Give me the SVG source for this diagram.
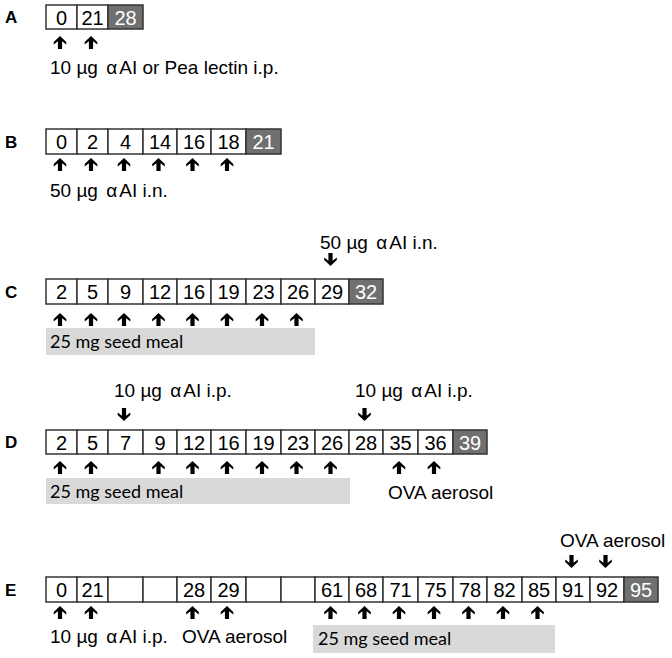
<svg xmlns="http://www.w3.org/2000/svg" xmlns:xlink="http://www.w3.org/1999/xlink" width="672" height="658" viewBox="0 0 672 658">
<style>
.c{fill:#fff;stroke:#333;stroke-width:1.5}
.d{fill:#707070;stroke:#333;stroke-width:1.5}
.n{font-family:"Liberation Sans",Arial,sans-serif;font-size:20px;fill:#000;text-anchor:middle}
.nw{font-family:"Liberation Sans",Arial,sans-serif;font-size:20px;fill:#fff;text-anchor:middle}
.l{font-family:"Liberation Sans",Arial,sans-serif;font-size:17px;font-weight:bold;fill:#000}
.t{font-family:"Liberation Sans",Arial,sans-serif;font-size:19px;fill:#000}
.s{font-family:Lato,"Liberation Sans",sans-serif;font-size:18px;fill:#000}
.bar{fill:#d9d9d9}
</style>
<defs>
<path id="up" d="M-1.5,0 L4.8,6 L4.8,8.4 L0.6,5.2 L0.6,13 L-3.6,13 L-3.6,5.2 L-7.8,8.4 L-7.8,6 Z" fill="#000"/>
<path id="dn" d="M-1.5,13 L4.8,7 L4.8,4.6 L0.6,7.8 L0.6,0 L-3.6,0 L-3.6,7.8 L-7.8,4.6 L-7.8,7 Z" fill="#000"/>
</defs>

<g id="rowA">
<text class="l" x="5" y="23">A</text>
<rect class="c" x="46" y="5" width="31" height="24"/><text class="n" x="61.5" y="24.5">0</text>
<rect class="c" x="77" y="5" width="31" height="24"/><text class="n" x="92.5" y="24.5">21</text>
<rect class="d" x="108" y="5" width="35" height="24"/><text class="nw" x="125.5" y="24.5">28</text>
<text class="t" x="50" y="74">10 µg <tspan dx="3">α</tspan><tspan dx="2">AI</tspan> or Pea lectin i.p.</text>
</g>

<g id="rowB">
<text class="l" x="5" y="147.5">B</text>
<rect class="c" x="46" y="129" width="31" height="25"/><text class="n" x="61.5" y="149">0</text>
<rect class="c" x="77" y="129" width="31" height="25"/><text class="n" x="92.5" y="149">2</text>
<rect class="c" x="108" y="129" width="35" height="25"/><text class="n" x="125.5" y="149">4</text>
<rect class="c" x="143" y="129" width="34" height="25"/><text class="n" x="160" y="149">14</text>
<rect class="c" x="177" y="129" width="34" height="25"/><text class="n" x="194" y="149">16</text>
<rect class="c" x="211" y="129" width="35" height="25"/><text class="n" x="228.5" y="149">18</text>
<rect class="d" x="246" y="129" width="35" height="25"/><text class="nw" x="263.5" y="149">21</text>
<text class="t" x="50" y="197">50 µg <tspan dx="3">α</tspan><tspan dx="2">AI</tspan> i.n.</text>
</g>

<g id="rowC">
<text class="l" x="5" y="297.5">C</text>
<rect class="c" x="46" y="279" width="31" height="25"/><text class="n" x="61.5" y="299">2</text>
<rect class="c" x="77" y="279" width="31" height="25"/><text class="n" x="92.5" y="299">5</text>
<rect class="c" x="108" y="279" width="35" height="25"/><text class="n" x="125.5" y="299">9</text>
<rect class="c" x="143" y="279" width="34" height="25"/><text class="n" x="160" y="299">12</text>
<rect class="c" x="177" y="279" width="34" height="25"/><text class="n" x="194" y="299">16</text>
<rect class="c" x="211" y="279" width="35" height="25"/><text class="n" x="228.5" y="299">19</text>
<rect class="c" x="246" y="279" width="35" height="25"/><text class="n" x="263.5" y="299">23</text>
<rect class="c" x="281" y="279" width="34" height="25"/><text class="n" x="298" y="299">26</text>
<rect class="c" x="315" y="279" width="34" height="25"/><text class="n" x="332" y="299">29</text>
<rect class="d" x="349" y="279" width="34" height="25"/><text class="nw" x="366" y="299">32</text>
<text class="t" x="320" y="249">50 µg <tspan dx="3">α</tspan><tspan dx="2">AI</tspan> i.n.</text>
<rect class="bar" x="46" y="328" width="269" height="27"/>
<text class="s" x="50" y="348">25 mg seed meal</text>
</g>

<g id="rowD">
<text class="l" x="5" y="448">D</text>
<rect class="c" x="46" y="430" width="31" height="24"/><text class="n" x="61.5" y="449.5">2</text>
<rect class="c" x="77" y="430" width="31" height="24"/><text class="n" x="92.5" y="449.5">5</text>
<rect class="c" x="108" y="430" width="35" height="24"/><text class="n" x="125.5" y="449.5">7</text>
<rect class="c" x="143" y="430" width="34" height="24"/><text class="n" x="160" y="449.5">9</text>
<rect class="c" x="177" y="430" width="34" height="24"/><text class="n" x="194" y="449.5">12</text>
<rect class="c" x="211" y="430" width="35" height="24"/><text class="n" x="228.5" y="449.5">16</text>
<rect class="c" x="246" y="430" width="35" height="24"/><text class="n" x="263.5" y="449.5">19</text>
<rect class="c" x="281" y="430" width="34" height="24"/><text class="n" x="298" y="449.5">23</text>
<rect class="c" x="315" y="430" width="34" height="24"/><text class="n" x="332" y="449.5">26</text>
<rect class="c" x="349" y="430" width="34" height="24"/><text class="n" x="366" y="449.5">28</text>
<rect class="c" x="383" y="430" width="35" height="24"/><text class="n" x="400.5" y="449.5">35</text>
<rect class="c" x="418" y="430" width="35" height="24"/><text class="n" x="435.5" y="449.5">36</text>
<rect class="d" x="453" y="430" width="34" height="24"/><text class="nw" x="470" y="449.5">39</text>
<text class="t" x="114" y="397">10 µg <tspan dx="3">α</tspan><tspan dx="2">AI</tspan> i.p.</text>
<text class="t" x="355" y="397">10 µg <tspan dx="3">α</tspan><tspan dx="2">AI</tspan> i.p.</text>
<rect class="bar" x="46" y="478" width="304" height="26"/>
<text class="s" x="50" y="498">25 mg seed meal</text>
<text class="t" x="388" y="499">OVA aerosol</text>
</g>

<g id="rowE">
<text class="l" x="5" y="596">E</text>
<rect class="c" x="46" y="577" width="31" height="25"/><text class="n" x="61.5" y="597">0</text>
<rect class="c" x="77" y="577" width="31" height="25"/><text class="n" x="92.5" y="597">21</text>
<rect class="c" x="108" y="577" width="35" height="25"/>
<rect class="c" x="143" y="577" width="34" height="25"/>
<rect class="c" x="177" y="577" width="34" height="25"/><text class="n" x="194" y="597">28</text>
<rect class="c" x="211" y="577" width="35" height="25"/><text class="n" x="228.5" y="597">29</text>
<rect class="c" x="246" y="577" width="35" height="25"/>
<rect class="c" x="281" y="577" width="34" height="25"/>
<rect class="c" x="315" y="577" width="34" height="25"/><text class="n" x="332" y="597">61</text>
<rect class="c" x="349" y="577" width="34" height="25"/><text class="n" x="366" y="597">68</text>
<rect class="c" x="383" y="577" width="35" height="25"/><text class="n" x="400.5" y="597">71</text>
<rect class="c" x="418" y="577" width="35" height="25"/><text class="n" x="435.5" y="597">75</text>
<rect class="c" x="453" y="577" width="34" height="25"/><text class="n" x="470" y="597">78</text>
<rect class="c" x="487" y="577" width="35" height="25"/><text class="n" x="504.5" y="597">82</text>
<rect class="c" x="522" y="577" width="34" height="25"/><text class="n" x="539" y="597">85</text>
<rect class="c" x="556" y="577" width="34" height="25"/><text class="n" x="573" y="597">91</text>
<rect class="c" x="590" y="577" width="34" height="25"/><text class="n" x="607" y="597">92</text>
<rect class="d" x="624" y="577" width="34" height="25"/><text class="nw" x="641" y="597">95</text>
<text class="t" x="560" y="547">OVA aerosol</text>
<text class="t" x="50" y="643">10 µg <tspan dx="3">α</tspan><tspan dx="2">AI</tspan> i.p.</text>
<text class="t" x="182" y="643">OVA aerosol</text>
<rect class="bar" x="313" y="625" width="242" height="28"/>
<text class="s" x="318" y="645">25 mg seed meal</text>
</g>

<g id="connectors">
<use xlink:href="#up" x="61.5" y="36"/><use xlink:href="#up" x="92.5" y="36"/>
<use xlink:href="#up" x="61.5" y="158"/><use xlink:href="#up" x="92.5" y="158"/><use xlink:href="#up" x="125.5" y="158"/><use xlink:href="#up" x="160" y="158"/><use xlink:href="#up" x="194" y="158"/><use xlink:href="#up" x="228.5" y="158"/>
<use xlink:href="#up" x="61.5" y="313"/><use xlink:href="#up" x="92.5" y="313"/><use xlink:href="#up" x="125.5" y="313"/><use xlink:href="#up" x="160" y="313"/><use xlink:href="#up" x="194" y="313"/><use xlink:href="#up" x="228.5" y="313"/><use xlink:href="#up" x="263.5" y="313"/><use xlink:href="#up" x="298" y="313"/>
<use xlink:href="#dn" x="332" y="253"/>
<use xlink:href="#up" x="61.5" y="461"/><use xlink:href="#up" x="92.5" y="461"/><use xlink:href="#up" x="160" y="461"/><use xlink:href="#up" x="194" y="461"/><use xlink:href="#up" x="228.5" y="461"/><use xlink:href="#up" x="263.5" y="461"/><use xlink:href="#up" x="298" y="461"/><use xlink:href="#up" x="332" y="461"/><use xlink:href="#up" x="400.5" y="461"/><use xlink:href="#up" x="435.5" y="461"/>
<use xlink:href="#dn" x="125.5" y="408"/><use xlink:href="#dn" x="366" y="408"/>
<use xlink:href="#up" x="61.5" y="606"/><use xlink:href="#up" x="92.5" y="606"/><use xlink:href="#up" x="194" y="606"/><use xlink:href="#up" x="228.5" y="606"/><use xlink:href="#up" x="332" y="606"/><use xlink:href="#up" x="366" y="606"/><use xlink:href="#up" x="400.5" y="606"/><use xlink:href="#up" x="435.5" y="606"/><use xlink:href="#up" x="470" y="606"/><use xlink:href="#up" x="504.5" y="606"/><use xlink:href="#up" x="539" y="606"/>
<use xlink:href="#dn" x="573" y="555"/><use xlink:href="#dn" x="607" y="555"/>
</g>
</svg>
